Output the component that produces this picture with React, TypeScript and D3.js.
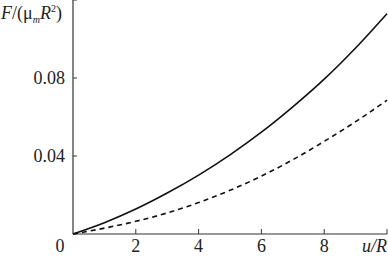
import React from "react";
import * as d3 from "d3";

const uValues = [0, 1, 2, 3, 4, 5, 6, 7, 8, 9, 10];
const solidF = [0, 0.0058, 0.0128, 0.021, 0.0302, 0.0406, 0.0522, 0.0652, 0.0794, 0.0954, 0.113];
const dashedF = [0, 0.003, 0.0065, 0.0108, 0.0161, 0.0224, 0.0297, 0.0381, 0.0475, 0.0576, 0.0686];
const xTicks = [2, 4, 6, 8, 10];
const xTickLabels = ["2", "4", "6", "8"];
const yTicks = [0.04, 0.08, 0.12];
const yTickLabels = ["0.04", "0.08"];

const FONT = "Liberation Serif";
const FS = 18;

export default function App() {
  const W = 388, H = 256;
  const x = d3.scaleLinear().domain([0, 10]).range([73, 387]);
  const y = d3.scaleLinear().domain([0, 0.12]).range([234, 0]);
  const line = d3
    .line<number>()
    .x((_, i) => x(uValues[i]))
    .y((d) => y(d))
    .curve(d3.curveMonotoneX);
  return (
    <svg width={W} height={H} style={{ position: "absolute", left: 0, top: 0, background: "#fff" }}>
      <line x1={x(0)} x2={x(0)} y1={0} y2={y(0)} stroke="#333" strokeWidth={1.2} />
      <line x1={x(0)} x2={x(10)} y1={y(0)} y2={y(0)} stroke="#333" strokeWidth={1.2} />
      {xTicks.map((t) => (
        <line key={"xt" + t} x1={x(t)} x2={x(t)} y1={y(0)} y2={y(0) - 5} stroke="#333" strokeWidth={1} />
      ))}
      {yTicks.map((t) => (
        <line key={"yt" + t} x1={x(0)} x2={x(0) + 4} y1={y(t)} y2={y(t)} stroke="#333" strokeWidth={1} />
      ))}
      {xTickLabels.map((l, i) => (
        <text key={"xl" + l} x={x(xTicks[i])} y={252} textAnchor="middle" fontSize={FS} fill="#222" fontFamily={FONT}>
          {l}
        </text>
      ))}
      <text x={60} y={252} textAnchor="middle" fontSize={FS} fill="#222" fontFamily={FONT}>0</text>
      <text x={387} y={252} textAnchor="end" fontSize={FS} fill="#222" fontStyle="italic" fontFamily={FONT}>u/R</text>
      {yTickLabels.map((l, i) => (
        <text key={"yl" + l} x={65} y={y(yTicks[i]) + 6} textAnchor="end" fontSize={FS} fill="#222" fontFamily={FONT}>
          {l}
        </text>
      ))}
      <text x={1} y={19} fontSize={FS} fill="#222" fontFamily={FONT}>
        <tspan fontStyle="italic">F</tspan>
        <tspan>/(μ</tspan>
        <tspan fontStyle="italic" fontSize={10} dy={4}>m</tspan>
        <tspan fontStyle="italic" dy={-4}>R</tspan>
        <tspan fontSize={10} dy={-7}>2</tspan>
        <tspan dy={7}>)</tspan>
      </text>
      <path d={line(solidF) || ""} fill="none" stroke="#111" strokeWidth={1.6} />
      <path d={line(dashedF) || ""} fill="none" stroke="#111" strokeWidth={1.6} strokeDasharray="5,4" />
    </svg>
  );
}
